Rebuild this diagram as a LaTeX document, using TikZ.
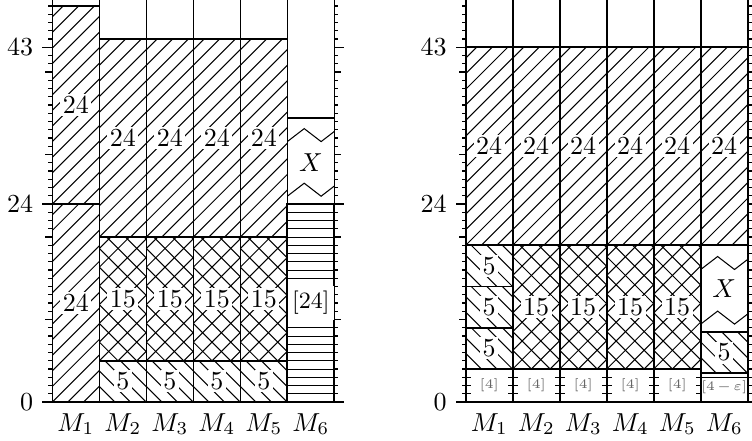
\documentclass[tikz,border=0pt]{standalone}
\usepackage{tikz}

\begin{document}
\begin{tikzpicture}[
  x=0.6353cm, y=0.11153cm,
  cell/.style={draw,line width=0.6pt},
  hl/.style={line width=0.4pt},
  jlong/.style={cell,path picture={
    \foreach \k in {-14,...,3}
      \draw[hl] ([xshift=\k*6pt]path picture bounding box.south west) -- ++(90pt,90pt);}},
  jshort/.style={cell,path picture={
    \foreach \k in {0,...,17}
      \draw[hl] ([xshift=\k*6pt]path picture bounding box.south west) -- ++(-90pt,90pt);}},
  jmid/.style={cell,path picture={
    \foreach \k in {-12,...,3}
      \draw[hl] ([xshift=\k*7.2pt]path picture bounding box.south west) -- ++(90pt,90pt);
    \foreach \k in {0,...,15}
      \draw[hl] ([xshift=\k*7.2pt]path picture bounding box.south west) -- ++(-90pt,90pt);}},
  jpre/.style={cell,line width=0.9pt,path picture={
    \foreach \k in {1,...,24}
      \draw[hl] ([yshift=\k*3.173pt]path picture bounding box.south west) -- ++(20pt,0);}},
  jx/.style={cell,path picture={
    \foreach \r in {0,1}
      \draw[hl] ([yshift=3pt+\r*21pt]path picture bounding box.south west)
        -- ++(6.5pt,5pt) -- ++(6.5pt,-5pt) -- ++(6.5pt,5pt);}},
  lab/.style={fill=white,inner sep=1pt},
  prelab/.style={fill=white,font=\tiny,text=black!60},
  tk/.style={line width=0.5pt}
]
  \path[use as bounding box,clip] (-1.113,-4.606) rectangle (14.887,48.727);

  % first schedule
  \draw[jlong] (0,0) rectangle (1,24);
  \draw[jlong] (0,24) rectangle (1,48);
  \node[lab] (al0) at (0.5,12) {$24$};
  \node[lab] (au0) at (0.5,36) {$24$};
  \foreach \i in {1,...,4} {
    \draw[jshort] (\i,0) rectangle ++(1,5);
    \draw[jmid] (\i,5) rectangle ++(1,15);
    \draw[jlong] (\i,20) rectangle ++(1,24);
    \node[lab] (as\i) at (\i+0.5,2.5) {$5$};
    \node[lab] (am\i) at (\i+0.5,12.5) {$15$};
    \node[lab] (al\i) at (\i+0.5,32) {$24$};
  }
  \draw[jpre] (5,0) rectangle (6,24);
  \draw[jx] (5,24) rectangle (6,34.4);
  \node[lab,font=\small,inner sep=2pt] (ap5) at (5.5,12) {$[24]$};
  \node[lab] (ax5) at (5.5,29) {$X$};

  % second schedule
  \begin{scope}[shift={(8.796,0)}]
    \foreach \i in {0,...,4} {
      \draw[jpre] (\i,0) rectangle ++(1,4);
      \draw[jlong] (\i,19) rectangle ++(1,24);
      \node[prelab] (bp\i) at (\i+0.5,2) {$[4]$};
      \node[lab] (bl\i) at (\i+0.5,31) {$24$};
    }
    \foreach \y/\k in {4/a,9/b,14/c} {
      \draw[jshort] (0,\y) rectangle ++(1,5);
      \node[lab] (bs\k) at (0.5,\y+2.5) {$5$};
    }
    \foreach \i in {1,...,4} {
      \draw[jmid] (\i,4) rectangle ++(1,15);
      \node[lab] (bm\i) at (\i+0.5,11.5) {$15$};
    }
    \draw[jpre] (5,0) rectangle (6,3.5);
    \draw[jshort] (5,3.5) rectangle (6,8.5);
    \draw[jx] (5,8.5) rectangle (6,19);
    \draw[jlong] (5,19) rectangle (6,43);
    \node[prelab,inner sep=0.5pt] (bp5) at (5.5,1.75) {$[4\mkern2mu{-}\mkern2mu\varepsilon]$};
    \node[lab] (bs5) at (5.5,6) {$5$};
    \node[lab] (bx5) at (5.5,13.75) {$X$};
    \node[lab] (bl5) at (5.5,31) {$24$};
  \end{scope}

  % axes and ticks
  \foreach \ox/\ch in {0/a,8.796/b} {
    \begin{scope}[shift={(\ox,0)}]
      \draw[line width=0.6pt] (0,50) -- (0,0) -- (6,0) -- (6,50);
      \foreach \i in {1,...,5} \draw[line width=0.6pt] (\i,0) -- (\i,50);
      \foreach \t in {1,...,49} {
        \draw[tk] (0,\t) -- ++(-1.5pt,0);
        \draw[tk] (6,\t) -- ++(1.5pt,0);
      }
      \foreach \t in {10,20,30,40} {
        \draw[tk] (0,\t) -- ++(-2.7pt,0);
        \draw[tk] (6,\t) -- ++(2.7pt,0);
      }
      \foreach \t in {0,24,43} {
        \draw[tk] (0,\t) -- ++(-3.85pt,0);
        \draw[tk] (6,\t) -- ++(3.85pt,0);
        \node[anchor=east] (y\ch\t) at ([xshift=-3.85pt]0,\t) {$\t$};
      }
      \foreach \i in {1,...,6}
        \node[anchor=north,yshift=-0.8pt] (m\ch\i) at (\i-0.5,0) {$M_\i$};
    \end{scope}
  }
\end{tikzpicture}
\end{document}
